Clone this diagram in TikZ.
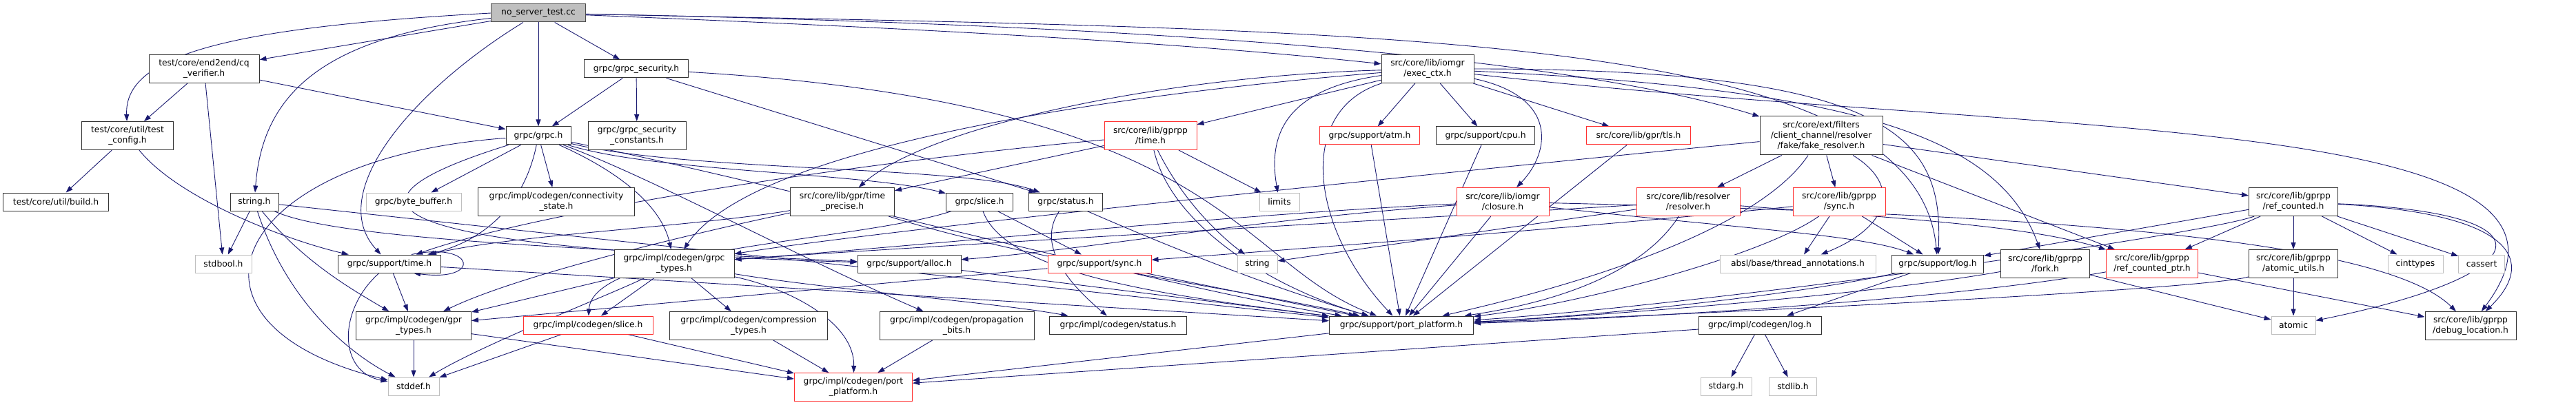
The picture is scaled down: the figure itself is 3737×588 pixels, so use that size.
\documentclass[tikz,border=0pt]{standalone}
\usepackage{fontspec}
\setmainfont{DejaVu Sans}
\usetikzlibrary{arrows.meta,backgrounds}
\definecolor{edgeblue}{HTML}{191970}
\definecolor{sysgray}{HTML}{BFBFBF}
\definecolor{truncred}{HTML}{FF3030}

\begin{document}
\begin{tikzpicture}[x=1pt, y=-1pt,
  file/.style={draw=black!80, line width=1pt, fill=white, align=center,
    font=\fontsize{12.3}{14.8}\selectfont, inner sep=3pt, minimum height=26pt},
  twoline/.style={minimum height=41pt},
  threeline/.style={minimum height=56pt},
  sysfile/.style={file, draw=sysgray},
  cutfile/.style={file, draw=truncred},
  rootfile/.style={file, fill=sysgray, draw=black!70},
  dep/.style={draw=edgeblue, line width=0.9pt, -{Triangle[length=10pt,width=7pt]}}]
  \useasboundingbox (0,0) rectangle (3737,588);

  % top rows
  \node[rootfile, minimum width=137pt] (root) at (781,19) {no\_server\_test.cc};
  \node[file, twoline, minimum width=160pt] (cqv) at (296,100) {test/core/end2end/cq\\\_verifier.h};
  \node[file, minimum width=151pt] (sec) at (923,100) {grpc/grpc\_security.h};
  \node[file, twoline, minimum width=134pt] (exec) at (2071,100) {src/core/lib/iomgr\\/exec\_ctx.h};
  \node[file, twoline, minimum width=133pt] (tcfg) at (185,197) {test/core/util/test\\\_config.h};
  \node[file, minimum width=94pt] (grpch) at (781,197) {grpc/grpc.h};
  \node[file, twoline, minimum width=142pt] (secc) at (924,197) {grpc/grpc\_security\\\_constants.h};
  \node[cutfile, twoline, minimum width=134pt] (gtime) at (1669,197) {src/core/lib/gprpp\\/time.h};
  \node[cutfile, minimum width=145pt] (atm) at (1987,197) {grpc/support/atm.h};
  \node[file, minimum width=143pt] (cpu) at (2155,197) {grpc/support/cpu.h};
  \node[cutfile, minimum width=151pt] (tls) at (2377,197) {src/core/lib/gpr/tls.h};
  \node[file, threeline, minimum width=178pt] (fake) at (2642,197) {src/core/ext/filters\\/client\_channel/resolver\\/fake/fake\_resolver.h};

  % middle rows
  \node[file, minimum width=153pt] (build) at (81,293) {test/core/util/build.h};
  \node[file, minimum width=70pt] (strh) at (369,293) {string.h};
  \node[sysfile, minimum width=138pt] (bbuf) at (600,293) {grpc/byte\_buffer.h};
  \node[file, twoline, minimum width=227pt] (conn) at (807,293) {grpc/impl/codegen/connectivity\\\_state.h};
  \node[file, twoline, minimum width=151pt] (tprec) at (1222,293) {src/core/lib/gpr/time\\\_precise.h};
  \node[file, minimum width=97pt] (gslice) at (1421,293) {grpc/slice.h};
  \node[file, minimum width=107pt] (gstatus) at (1546,293) {grpc/status.h};
  \node[sysfile, minimum width=58pt] (limits) at (1856,293) {limits};
  \node[cutfile, twoline, minimum width=134pt] (closure) at (2180,293) {src/core/lib/iomgr\\/closure.h};
  \node[cutfile, twoline, minimum width=150pt] (resolver) at (2449,293) {src/core/lib/resolver\\/resolver.h};
  \node[cutfile, twoline, minimum width=134pt] (gsync) at (2668,293) {src/core/lib/gprpp\\/sync.h};
  \node[file, twoline, minimum width=129pt] (refc) at (3327,293) {src/core/lib/gprpp\\/ref\_counted.h};

  \node[sysfile, minimum width=82pt] (stdbool) at (324,383) {stdbool.h};
  \node[file, minimum width=149pt] (stime) at (565,383) {grpc/support/time.h};
  \node[file, twoline, minimum width=174pt] (gtypes) at (978,383) {grpc/impl/codegen/grpc\\\_types.h};
  \node[file, minimum width=150pt] (alloc) at (1319,383) {grpc/support/alloc.h};
  \node[cutfile, minimum width=150pt] (ssync) at (1595,383) {grpc/support/sync.h};
  \node[sysfile, minimum width=58pt] (string) at (1824,383) {string};
  \node[sysfile, minimum width=226pt] (absl) at (2608,383) {absl/base/thread\_annotations.h};
  \node[file, minimum width=133pt] (slog) at (2811,383) {grpc/support/log.h};
  \node[file, twoline, minimum width=129pt] (fork) at (2967,383) {src/core/lib/gprpp\\/fork.h};
  \node[cutfile, twoline, minimum width=133pt] (refptr) at (3122,383) {src/core/lib/gprpp\\/ref\_counted\_ptr.h};
  \node[file, twoline, minimum width=129pt] (atomu) at (3327,383) {src/core/lib/gprpp\\/atomic\_utils.h};
  \node[sysfile, minimum width=80pt] (cint) at (3504,383) {cinttypes};
  \node[sysfile, minimum width=67pt] (cass) at (3600,383) {cassert};

  % bottom rows
  \node[file, twoline, minimum width=167pt] (gprt) at (600,473) {grpc/impl/codegen/gpr\\\_types.h};
  \node[cutfile, minimum width=188pt] (cslice) at (853,472) {grpc/impl/codegen/slice.h};
  \node[file, twoline, minimum width=229pt] (comp) at (1086,473) {grpc/impl/codegen/compression\\\_types.h};
  \node[file, twoline, minimum width=224pt] (prop) at (1388,473) {grpc/impl/codegen/propagation\\\_bits.h};
  \node[file, minimum width=199pt] (cstatus) at (1622,472) {grpc/impl/codegen/status.h};
  \node[file, minimum width=209pt] (spp) at (2033,472) {grpc/support/port\_platform.h};
  \node[file, minimum width=178pt] (clog) at (2553,472) {grpc/impl/codegen/log.h};
  \node[sysfile, minimum width=64pt] (atomic) at (3327,472) {atomic};
  \node[file, twoline, minimum width=132pt] (dbg) at (3584,473) {src/core/lib/gprpp\\/debug\_location.h};
  \node[sysfile, minimum width=74pt] (stddef) at (600,561) {stddef.h};
  \node[cutfile, twoline, minimum width=171pt] (cpp) at (1238,562) {grpc/impl/codegen/port\\\_platform.h};
  \node[sysfile, minimum width=74pt] (stdarg) at (2504,561) {stdarg.h};
  \node[sysfile, minimum width=69pt] (stdlib) at (2601,561) {stdlib.h};

  \begin{pgfonlayer}{background}
  % no_server_test.cc
  \draw[dep] (root) -- (cqv);
  \draw[dep] (root.west) .. controls (330,40) and (180,80) .. (tcfg);
  \draw[dep] (root) .. controls (450,55) and (380,150) .. (strh);
  \draw[dep] (root) .. controls (600,130) and (470,280) .. (stime);
  \draw[dep] (root) -- (grpch);
  \draw[dep] (root) -- (sec);
  \draw[dep] (root) .. controls (1300,40) and (1700,60) .. (exec);
  \draw[dep] (root) .. controls (1600,35) and (2250,75) .. (fake);
  \draw[dep] (root) .. controls (2000,45) and (2780,40) .. (slog);
  % test headers
  \draw[dep] (cqv) -- (tcfg);
  \draw[dep] (cqv) -- (stdbool);
  \draw[dep] (cqv) -- (grpch);
  \draw[dep] (tcfg) -- (build);
  \draw[dep] (tcfg) .. controls (260,290) and (420,350) .. (stime);
  % grpc_security.h
  \draw[dep] (sec) -- (grpch);
  \draw[dep] (sec) -- (secc);
  \draw[dep] (sec) -- (gstatus);
  \draw[dep] (sec) .. controls (1780,150) and (1790,380) .. (spp);
  % grpc.h
  \draw[dep] (grpch) .. controls (330,230) and (230,470) .. (stddef);
  \draw[dep] (grpch) .. controls (760,300) and (700,350) .. (stime);
  \draw[dep] (grpch) .. controls (450,300) and (560,360) .. (alloc);
  \draw[dep] (grpch) -- (bbuf);
  \draw[dep] (grpch) -- (conn);
  \draw[dep] (grpch) .. controls (900,250) and (960,300) .. (gtypes);
  \draw[dep] (grpch) .. controls (950,260) and (1150,370) .. (prop);
  \draw[dep] (grpch) .. controls (950,250) and (1250,250) .. (gslice);
  \draw[dep] (grpch) .. controls (1000,250) and (1400,240) .. (gstatus);
  \draw[dep] (grpch) .. controls (1100,260) and (1700,420) .. (spp);
  % string.h
  \draw[dep] (strh) -- (stdbool);
  \draw[dep] (strh) .. controls (420,450) and (520,520) .. (stddef);
  \draw[dep] (strh) .. controls (440,380) and (510,420) .. (gprt);
  \draw[dep] (strh) -- (spp);
  \draw[dep] (strh) .. controls (480,345) and (800,360) .. (alloc);
  % exec_ctx.h
  \draw[dep] (exec) .. controls (1860,130) and (1840,200) .. (limits);
  \draw[dep] (exec) .. controls (1700,130) and (1100,200) .. (gtypes);
  \draw[dep] (exec) -- (atm);
  \draw[dep] (exec) -- (cpu);
  \draw[dep] (exec) -- (tls);
  \draw[dep] (exec) .. controls (2750,100) and (2820,200) .. (slog);
  \draw[dep] (exec) .. controls (1700,110) and (1350,180) .. (tprec);
  \draw[dep] (exec) .. controls (2950,200) and (3820,160) .. (dbg);
  \draw[dep] (exec) .. controls (2700,130) and (2900,200) .. (fork);
  \draw[dep] (exec) -- (gtime);
  \draw[dep] (exec) .. controls (2260,140) and (2250,220) .. (closure);
  \draw[dep] (exec) .. controls (1880,160) and (1900,330) .. (spp);
  % fake_resolver.h
  \draw[dep] (fake) .. controls (2300,230) and (1300,330) .. (gtypes);
  \draw[dep] (fake) -- (resolver);
  \draw[dep] (fake) .. controls (2560,320) and (2350,400) .. (spp);
  \draw[dep] (fake) -- (gsync);
  \draw[dep] (fake) .. controls (2760,270) and (2740,330) .. (absl);
  \draw[dep] (fake) -- (refptr);
  \draw[dep] (fake) -- (refc);
  % gprpp/time.h and time_precise.h
  \draw[dep] (gtime) .. controls (1300,230) and (800,300) .. (stime);
  \draw[dep] (gtime) -- (limits);
  \draw[dep] (gtime) .. controls (1720,300) and (1780,350) .. (string);
  \draw[dep] (gtime) -- (tprec);
  \draw[dep] (gtime) .. controls (1700,330) and (1850,420) .. (spp);
  \draw[dep] (tprec) .. controls (1000,330) and (750,340) .. (stime);
  \draw[dep] (tprec) .. controls (1000,340) and (750,400) .. (gprt);
  \draw[dep] (tprec) .. controls (1500,380) and (1800,420) .. (spp);
  % support/time.h
  \draw[dep] ([xshift=32pt]stime.north) .. controls (690,350) and (700,410) .. ([xshift=35pt]stime.south);
  \draw[dep] (stime) -- (gprt);
  \draw[dep] (stime) .. controls (490,450) and (490,540) .. (stddef);
  \draw[dep] (stime) -- (spp);
  % slice.h, status.h
  \draw[dep] (gslice) .. controls (1250,350) and (860,360) .. (cslice);
  \draw[dep] (gslice) -- (ssync);
  \draw[dep] (gslice) .. controls (1460,400) and (1700,430) .. (spp);
  \draw[dep] (gstatus) .. controls (1500,360) and (1560,420) .. (cstatus);
  \draw[dep] (gstatus) .. controls (1700,360) and (1850,420) .. (spp);
  % grpc_types.h
  \draw[dep] (gtypes) -- (gprt);
  \draw[dep] (gtypes) -- (cslice);
  \draw[dep] (gtypes) -- (comp);
  \draw[dep] (gtypes) .. controls (1200,420) and (1450,440) .. (cstatus);
  \draw[dep] (gtypes) .. controls (1150,420) and (1240,470) .. (cpp);
  \draw[dep] (gtypes) .. controls (880,430) and (700,500) .. (stddef);
  \draw[dep] (alloc) -- (spp);
  \draw[dep] (ssync) -- (gprt);
  \draw[dep] (ssync) -- (spp);
  % codegen
  \draw[dep] (gprt) -- (stddef);
  \draw[dep] (gprt) -- (cpp);
  \draw[dep] (cslice) -- (stddef);
  \draw[dep] (cslice) -- (cpp);
  \draw[dep] (comp) -- (cpp);
  \draw[dep] (prop) -- (cpp);
  % support and iomgr
  \draw[dep] (atm) -- (spp);
  \draw[dep] (cpu) -- (spp);
  \draw[dep] (tls) -- (spp);
  \draw[dep] (closure) -- (spp);
  \draw[dep] (closure) .. controls (1800,310) and (1300,360) .. (gtypes);
  \draw[dep] (closure) .. controls (1800,320) and (1600,360) .. (alloc);
  \draw[dep] (closure) .. controls (2500,330) and (2700,340) .. (slog);
  \draw[dep] (closure) .. controls (2900,310) and (3450,340) .. (dbg);
  \draw[dep] (resolver) .. controls (2380,400) and (2250,440) .. (spp);
  \draw[dep] (resolver) -- (string);
  \draw[dep] (resolver) .. controls (2000,320) and (1300,360) .. (gtypes);
  \draw[dep] (resolver) .. controls (2800,320) and (2950,330) .. (refptr);
  \draw[dep] (gsync) -- (absl);
  \draw[dep] (gsync) -- (slog);
  \draw[dep] (gsync) .. controls (2560,370) and (2300,440) .. (spp);
  \draw[dep] (gsync) .. controls (2300,330) and (1900,360) .. (ssync);
  \draw[dep] (slog) -- (clog);
  \draw[dep] (slog) .. controls (2600,430) and (2300,460) .. (spp);
  \draw[dep] (spp) -- (cpp);
  \draw[dep] (clog) -- (stdarg);
  \draw[dep] (clog) -- (stdlib);
  \draw[dep] (clog) -- (cpp);
  % gprpp
  \draw[dep] (fork) .. controls (2700,430) and (2300,460) .. (spp);
  \draw[dep] (fork) -- (atomic);
  \draw[dep] (refptr) .. controls (2800,440) and (2300,465) .. (spp);
  \draw[dep] (refptr) -- (dbg);
  \draw[dep] (refc) -- (slog);
  \draw[dep] (refc) -- (refptr);
  \draw[dep] (refc) -- (atomu);
  \draw[dep] (refc) -- (cint);
  \draw[dep] (refc) -- (cass);
  \draw[dep] (refc) .. controls (3650,310) and (3680,380) .. (dbg);
  \draw[dep] (refc) .. controls (3720,310) and (3680,400) .. (atomic);
  \draw[dep] (refc) .. controls (3200,340) and (2500,440) .. (spp);
  \draw[dep] (atomu) -- (atomic);
  \draw[dep] (atomu) .. controls (3200,420) and (2500,455) .. (spp);
  \end{pgfonlayer}
\end{tikzpicture}
\end{document}
